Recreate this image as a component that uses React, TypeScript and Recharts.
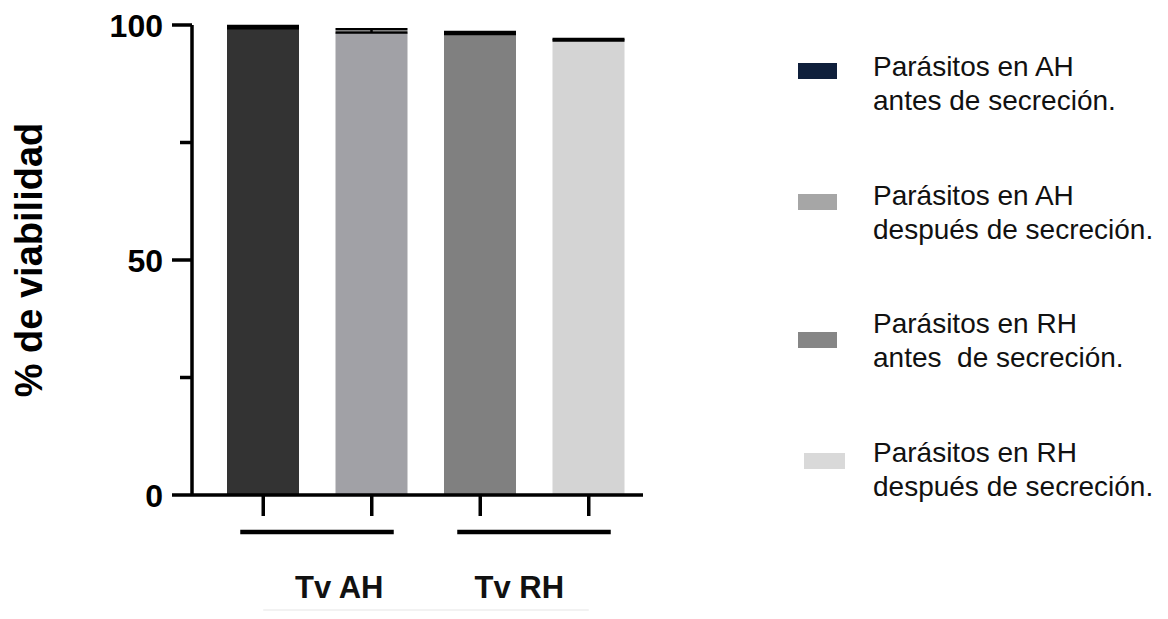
import React from 'react';
import { BarChart, Bar, Cell, XAxis, YAxis, ErrorBar, Legend } from 'recharts';

// categories (one bar each) and their group labels under the axis
const CATEGORIES = ['AH antes', 'AH después', 'RH antes', 'RH después'];
const GROUPS = ['Tv AH', 'Tv RH'];

// % viability (mean) and upper error
const VIABILITY = [99.3, 98.4, 98.1, 96.7];
const ERRORS = [0.5, 0.7, 0.4, 0.3];

const Y_TICKS = [0, 25, 50, 75, 100];
const Y_LABELED = [0, 50, 100];

const LEGEND_LINE1 = ['Parásitos en AH', 'Parásitos en AH', 'Parásitos en RH', 'Parásitos en RH'];
const LEGEND_LINE2 = ['antes de secreción.', 'después de secreción.', 'antes  de secreción.', 'después de secreción.'];

const BAR_COLORS = ['#333333', '#a1a1a6', '#808080', '#d4d4d4'];
const LEGEND_COLORS = ['#0f1f3b', '#a6a6a6', '#868686', '#d9d9d9'];

const data = CATEGORIES.map((name, i) => ({ name, value: VIABILITY[i], err: [0, ERRORS[i]] }));

const FONT = '"Liberation Sans", Arial, sans-serif';
const GROUP_LABEL_DX = [76, 39];
const SWATCH_DY = [13, 15, 25, 17];
const SWATCH_DX = [0, 0, 0, 6];

function YTick(props: any) {
  const { x, y, payload } = props;
  const major = Y_LABELED.includes(payload.value);
  return (
    <g>
      <line x1={x - (major ? 20 : 12)} x2={x} y1={y} y2={y} stroke="#000" strokeWidth={3.5} />
      {major && (
        <text x={x - 29} y={y} dy="0.36em" textAnchor="end" fontFamily={FONT} fontWeight="bold" fontSize={32} fill="#000">
          {payload.value}
        </text>
      )}
    </g>
  );
}

function XTick(props: any) {
  const { x, y, index, payload } = props;
  const band = payload && payload.offset ? payload.offset * 2 : 108.5;
  const g = index / 2;
  return (
    <g>
      <line x1={x} x2={x} y1={y} y2={y + 21} stroke="#000" strokeWidth={3.5} />
      {index % 2 === 0 && (
        <>
          <line x1={x - 23} x2={x + band + 22} y1={y + 37} y2={y + 37} stroke="#000" strokeWidth={4.5} />
          <text x={x + GROUP_LABEL_DX[g]} y={y + 103} textAnchor="middle" fontFamily={FONT} fontWeight="bold" fontSize={31} fill="#111">
            {GROUPS[g]}
          </text>
        </>
      )}
      {index === 0 && (
        <line x1={x} x2={x + band * 3} y1={y + 117} y2={y + 117} stroke="#f2f2f2" strokeWidth={6} />
      )}
    </g>
  );
}

function YLabel(props: any) {
  const { viewBox } = props;
  const cy = viewBox.y + viewBox.height / 2;
  return (
    <text x={34} y={cy} transform={`rotate(-90, 34, ${cy})`} textAnchor="middle" fontFamily={FONT} fontWeight="bold" fontSize={38} fill="#000">
      % de viabilidad
    </text>
  );
}

function LegendBox() {
  return (
    <div style={{ position: 'relative', width: 372, height: 540, fontFamily: FONT, fontSize: 28, lineHeight: '34px', color: '#111' }}>
      {LEGEND_LINE1.map((l1, i) => (
        <div key={i} style={{ position: 'absolute', left: 0, top: i * 128.5, width: 372 }}>
          <div style={{ position: 'absolute', left: 8 + SWATCH_DX[i], top: SWATCH_DY[i], width: 39 + (SWATCH_DX[i] ? 2 : 0), height: 16, background: LEGEND_COLORS[i] }} />
          <div style={{ position: 'absolute', left: 83, top: 0, whiteSpace: 'pre', textAlign: 'left' }}>
            {l1}
            <br />
            {LEGEND_LINE2[i]}
          </div>
        </div>
      ))}
    </div>
  );
}

export default function App() {
  return (
    <div style={{ width: 1152, height: 603 }}>
      <BarChart width={1152} height={603} data={data} margin={{ top: 17, right: 517, bottom: 0, left: 0 }} barSize={72}>
        <XAxis
          dataKey="name"
          height={116}
          padding={{ left: 17, right: 0 }}
          axisLine={{ stroke: '#000', strokeWidth: 3.5 }}
          tickLine={false}
          tickSize={0}
          tickMargin={0}
          tick={<XTick />}
          interval={0}
        />
        <YAxis
          domain={[0, 100]}
          ticks={Y_TICKS}
          width={184}
          axisLine={{ stroke: '#000', strokeWidth: 3.5 }}
          tickLine={false}
          tickSize={0}
          tickMargin={0}
          tick={<YTick />}
          interval={0}
          label={<YLabel />}
        />
        <Legend
          layout="horizontal"
          verticalAlign="middle"
          align="center"
          content={() => <LegendBox />}
          wrapperStyle={{ left: 782, top: 42, width: 372, height: 540 }}
        />
        <Bar dataKey="value" isAnimationActive={false}>
          {data.map((d, i) => (
            <Cell key={d.name} fill={BAR_COLORS[i]} />
          ))}
          <ErrorBar dataKey="err" width={36} strokeWidth={2.5} stroke="#000" direction="y" isAnimationActive={false} />
        </Bar>
      </BarChart>
    </div>
  );
}
